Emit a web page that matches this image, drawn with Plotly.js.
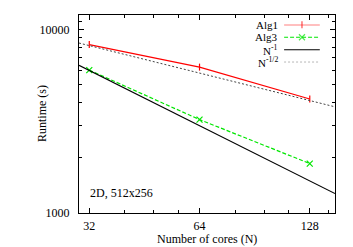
<!DOCTYPE html>
<html>
<head>
<meta charset="utf-8">
<script src="https://cdn.plot.ly/plotly-3.0.1.min.js"></script>
<style>html,body{margin:0;padding:0;background:#fff;}#chart{width:353px;height:247px;}</style>
</head>
<body>
<div id="chart"></div>
<script>
// Data
const cores = [32, 64, 128];
const alg1 = [8280, 6240, 4180];
const alg3 = [6010, 3230, 1860];
const refCores = [30, 150];
const refInv = [6380, 1276];      // ~ N^-1
const refInvSqrt = [8440, 3790];  // ~ N^-1/2
const xTicks = [32, 64, 128];
const xMinor = [40, 48, 56, 80, 96, 112, 144];
const yTicks = [1000, 10000];
const yMinor = [2000, 3000, 4000, 5000, 6000, 7000, 8000, 9000, 11000];
const names = ['Alg1', 'Alg3', 'N<sup>-1</sup>', 'N<sup>-1/2</sup>'];

const RED = '#ff0000', GREEN = '#00e600', BLACK = '#000000', GRAY = '#444444';
const FONT = 'Liberation Serif, Times New Roman, serif';

const traces = [
  {x: cores, y: alg1, mode: 'lines+markers', line: {color: RED, width: 1.2},
   marker: {symbol: 'line-ns-open', size: 5, color: RED, line: {color: RED, width: 1.2}}},
  {x: cores, y: alg3, mode: 'lines+markers', line: {color: GREEN, width: 1.2, dash: '4px,2px'},
   marker: {symbol: 'x-thin-open', size: 6, color: GREEN, line: {color: GREEN, width: 1.2}}},
  {x: refCores, y: refInv, mode: 'lines', line: {color: BLACK, width: 1.1}},
  {x: refCores, y: refInvSqrt, mode: 'lines', line: {color: GRAY, width: 1, dash: '2px,2px'}},
  // legend samples on hidden axes
  {x: [0, 0.5, 1], y: [3, 3, 3], xaxis: 'x2', yaxis: 'y2', mode: 'lines+markers', line: {color: RED, width: 1.2},
   marker: {symbol: 'line-ns-open', size: [0, 5, 0], color: RED, line: {color: RED, width: 1.2}}, cliponaxis: false},
  {x: [0, 0.5, 1], y: [2, 2, 2], xaxis: 'x2', yaxis: 'y2', mode: 'lines+markers', line: {color: GREEN, width: 1.2, dash: '4px,2px'},
   marker: {symbol: 'x-thin-open', size: [0, 6, 0], color: GREEN, line: {color: GREEN, width: 1.2}}, cliponaxis: false},
  {x: [0, 1], y: [1, 1], xaxis: 'x2', yaxis: 'y2', mode: 'lines', line: {color: BLACK, width: 1.1}, cliponaxis: false},
  {x: [0, 1], y: [0, 0], xaxis: 'x2', yaxis: 'y2', mode: 'lines', line: {color: GRAY, width: 1, dash: '2px,2px'}, cliponaxis: false}
];

const legendAnn = names.map((n, i) => ({
  xref: 'x2', yref: 'y2', x: 0, y: 3 - i, xanchor: 'right', yanchor: 'middle', xshift: -4,
  text: n, showarrow: false, font: {family: FONT, size: 11, color: '#000'}
}));

const layout = {
  width: 353, height: 247,
  margin: {l: 79, r: 18, t: 15, b: 34},
  paper_bgcolor: '#fff', plot_bgcolor: '#fff',
  showlegend: false,
  font: {family: FONT, size: 12, color: '#000'},
  xaxis: {
    type: 'log', range: [Math.log10(30), Math.log10(150)],
    tickmode: 'array', tickvals: xTicks, ticktext: xTicks.map(String),
    ticks: 'inside', ticklen: 5, tickwidth: 1, tickcolor: '#000',
    minor: {tickmode: 'array', tickvals: xMinor, ticks: 'inside', ticklen: 3, tickcolor: '#000', showgrid: false},
    showline: true, linecolor: '#000', linewidth: 1, mirror: 'allticks',
    showgrid: false, zeroline: false, ticklabelstandoff: 2,
    tickfont: {family: FONT, size: 12, color: '#000'}
  },
  yaxis: {
    type: 'log', range: [3, Math.log10(12000)],
    tickmode: 'array', tickvals: yTicks, ticktext: yTicks.map(String),
    ticks: 'inside', ticklen: 5, tickwidth: 1, tickcolor: '#000',
    minor: {tickmode: 'array', tickvals: yMinor, ticks: 'inside', ticklen: 3, tickcolor: '#000', showgrid: false},
    showline: true, linecolor: '#000', linewidth: 1, mirror: 'allticks',
    showgrid: false, zeroline: false, ticklabelstandoff: 6,
    tickfont: {family: FONT, size: 12, color: '#000'}
  },
  xaxis2: {domain: [0.801, 0.941], range: [0, 1], anchor: 'y2', visible: false, fixedrange: true},
  yaxis2: {domain: [0.761, 0.951], range: [0, 3], anchor: 'x2', visible: false, fixedrange: true},
  annotations: [
    {xref: 'paper', yref: 'paper', x: -0.1445, y: 0.5, textangle: -90, xanchor: 'center', yanchor: 'middle',
     text: 'Runtime (s)', showarrow: false, font: {family: FONT, size: 12}},
    {xref: 'paper', yref: 'paper', x: 0.5, y: -0.133, xanchor: 'center', yanchor: 'middle',
     text: 'Number of cores (N)', showarrow: false, font: {family: FONT, size: 12}},
    {xref: 'paper', yref: 'paper', x: 0.036, y: 0.101, xanchor: 'left', yanchor: 'middle',
     text: '2D, 512x256', showarrow: false, font: {family: FONT, size: 12}}
  ].concat(legendAnn)
};

Plotly.newPlot('chart', traces, layout, {staticPlot: true, displayModeBar: false});
</script>
</body>
</html>
